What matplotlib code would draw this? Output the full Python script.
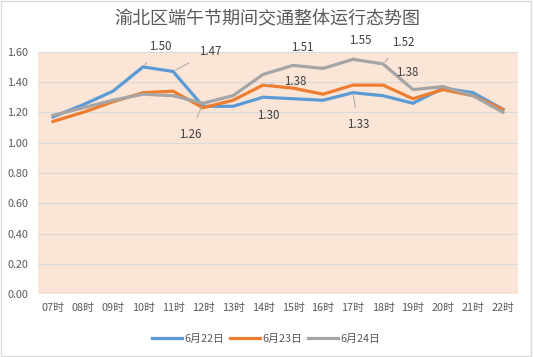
import matplotlib
matplotlib.use('Agg')
import matplotlib.pyplot as plt
from matplotlib.patches import Rectangle

plt.rcParams['font.family'] = ['Noto Sans CJK SC', 'DejaVu Sans']

hours = ['07时', '08时', '09时', '10时', '11时', '12时', '13时', '14时',
         '15时', '16时', '17时', '18时', '19时', '20时', '21时', '22时']
jun22 = [1.17, 1.25, 1.34, 1.50, 1.47, 1.24, 1.24, 1.30, 1.29, 1.28, 1.33, 1.31, 1.26, 1.36, 1.33, 1.22]
jun23 = [1.14, 1.20, 1.27, 1.33, 1.34, 1.23, 1.28, 1.38, 1.36, 1.32, 1.38, 1.38, 1.29, 1.35, 1.31, 1.22]
jun24 = [1.18, 1.23, 1.28, 1.32, 1.31, 1.26, 1.31, 1.45, 1.51, 1.49, 1.55, 1.52, 1.35, 1.37, 1.31, 1.20]

series = [('6月22日', jun22, '#5B9BD5'),
          ('6月23日', jun23, '#ED7D31'),
          ('6月24日', jun24, '#A5A5A5')]

# (series index, hour index, text offset in pixels)
labels = [(0, 3, (17, 20)), (0, 4, (37, 20)), (2, 5, (-13, -31)),
          (0, 7, (5, -18)), (1, 7, (32, 4)), (2, 8, (9, 18)),
          (0, 10, (5, -32)), (2, 10, (7, 19)), (2, 11, (20, 21)),
          (1, 11, (24, 13))]

txt = '#595959'
fig = plt.figure(figsize=(5.34, 3.57), dpi=100)
ax = fig.add_axes([0.0712, 0.176, 0.8988, 0.679])
ax.set_facecolor('#FBE5D6')

x = list(range(len(hours)))
for name, vals, col in series:
    ax.plot(x, vals, color=col, lw=2.3, label=name, solid_joinstyle='miter', zorder=3)

for si, hi, (dx, dy) in labels:
    v = series[si][1][hi]
    ax.annotate(f'{v:.2f}', xy=(hi, v), xytext=(dx, dy), textcoords='offset pixels',
                ha='center', va='center', fontsize=8.3, color='#404040',
                arrowprops=dict(arrowstyle='-', color='#A6A6A6', lw=0.7, shrinkA=6, shrinkB=2),
                zorder=4)

ax.set_xlim(-0.5, 15.5)
ax.set_ylim(0, 1.6)
ax.set_yticks([i * 0.2 for i in range(9)])
ax.set_yticklabels([f'{i * 0.2:.2f}' for i in range(9)])
ax.set_xticks(x)
ax.set_xticklabels(hours)
ax.tick_params(length=0, labelsize=7.8, labelcolor=txt)
ax.tick_params(axis='x', pad=6)
ax.tick_params(axis='y', pad=7)
ax.grid(axis='y', color='#D9D9D9', lw=0.8)
ax.set_axisbelow(True)
for s in ax.spines.values():
    s.set_visible(False)
ax.axhline(0, color='#D9D9D9', lw=0.9)

fig.text(0.5, 0.945, '渝北区端午节期间交通整体运行态势图', ha='center', va='center',
         fontsize=13, color=txt)

ax.legend(loc='upper center', bbox_to_anchor=(0.475, -0.125), ncol=3, frameon=False,
          fontsize=7.8, labelcolor=txt, handlelength=2.8, handletextpad=0.2,
          columnspacing=0.5)

fig.patches.append(Rectangle((0.002, 0.003), 0.993, 0.994, transform=fig.transFigure,
                             fill=False, edgecolor='#D9D9D9', lw=1))

fig.savefig('out.png', dpi=100)
